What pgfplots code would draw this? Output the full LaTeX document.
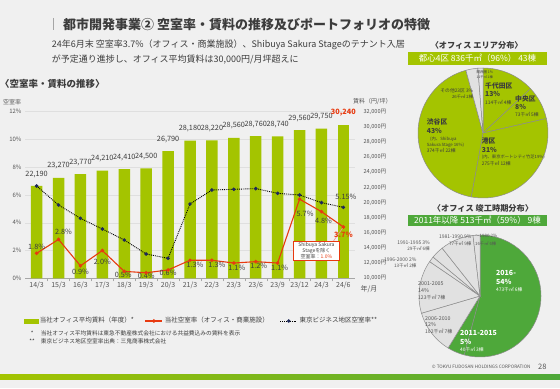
\documentclass[border=0pt]{standalone}
\usepackage{fontspec}
\setmainfont{Noto Sans CJK JP}
\usepackage{pgfplots}
\pgfplotsset{compat=1.18}
\pgfplotsset{/pgf/number format/assume math mode=true}
\definecolor{bgc}{HTML}{F0F0F0}
\definecolor{barc}{RGB}{164,196,0}
\definecolor{grn2}{RGB}{78,168,58}
\definecolor{redl}{RGB}{232,58,16}
\definecolor{navy}{RGB}{30,40,90}
\definecolor{txt}{HTML}{3C3C3C}
\definecolor{tickc}{HTML}{555555}
\definecolor{pgray}{HTML}{E1E1E1}
\definecolor{pline}{HTML}{8C8C8C}
\definecolor{pinkl}{RGB}{240,150,150}
\newcommand{\fs}[2]{\fontsize{#1bp}{#2bp}\selectfont}
\pgfplotsset{mainax/.style={at={(25bp,109.7bp)}, anchor=south west, scale only axis,
  width=330bp, height=166.6bp, xmin=-0.53, xmax=14.53}}
\begin{document}
\begin{tikzpicture}[x=1bp,y=1bp]
\useasboundingbox (0,0) rectangle (560,388);
\fill[bgc] (0,0) rectangle (560,388);
% ---------- header ----------
\draw[gray!70, line width=1bp] (53.5,370) -- (53.5,358);
\node[anchor=west, inner sep=0, text=txt, font=\fs{13}{15}\bfseries] at (63,363.5) {都市開発事業② 空室率・賃料の推移及びポートフォリオの特徴};
\node[anchor=west, inner sep=0, text=txt, font=\fs{9}{11}] at (51.7,343) {24年6月末 空室率3.7\%（オフィス・商業施設）、Shibuya Sakura Stageのテナント入居};
\node[anchor=west, inner sep=0, text=txt, font=\fs{9}{11}] at (51.7,328) {が予定通り進捗し、オフィス平均賃料は30,000円/月坪超えに};
\node[anchor=west, inner sep=0, text=txt, font=\fs{9.5}{11}\bfseries] at (0,304.5) {〈空室率・賃料の推移〉};
\node[anchor=west, inner sep=0, text=tickc, font=\fs{6}{7}] at (3,286) {空室率};
\node[anchor=west, inner sep=0, text=tickc, font=\fs{6}{7}] at (353,286.3) {賃料（円/坪）};
\node[inner sep=0, text=tickc, font=\fs{7}{8}] at (369,98.7) {年/月};
% ---------- axis 1: left scale, grid, category labels ----------
\begin{axis}[mainax, ymin=0, ymax=12, ytick={0,2,...,12},
  yticklabel={\pgfmathprintnumber{\tick}\%},
  ymajorgrids, grid style={gray!25, line width=0.5bp},
  axis x line*=bottom, axis y line*=left,
  y axis line style={draw=none}, x axis line style={draw=gray!70, line width=0.6bp},
  xtick={0,...,14},
  xticklabels={14/3,15/3,16/3,17/3,18/3,19/3,20/3,21/3,22/3,23/3,23/6,23/9,23/12,24/3,24/6},
  major tick length=0pt,
  extra x ticks={0.5,1.5,...,13.5}, extra x tick labels={},
  extra x tick style={major tick length=3bp, tick align=outside, major tick style={draw=gray!70}},
  yticklabel style={font=\fs{6}{7}, text=tickc},
  xticklabel style={font=\fs{7}{8}, text=tickc}]
\addplot[draw=none] coordinates {(0,0)};
\end{axis}
% ---------- axis 2: bars, right scale ----------
\begin{axis}[mainax, ymin=10000, ymax=32000, ytick={10000,12000,...,32000},
  scaled y ticks=false,
  axis x line=none, axis y line*=right, y axis line style={draw=none},
  major tick length=0pt,
  yticklabel={\pgfmathprintnumber[fixed,precision=0,1000 sep={,}]{\tick}円},
  yticklabel style={font=\fs{5.6}{7}, text=tickc, xshift=5bp}]
\addplot[ybar, bar width=11.5bp, bar shift=0pt, fill=barc, draw=none,
  nodes near coords={\pgfmathprintnumber[fixed,precision=0,1000 sep={,}]{\pgfplotspointmeta}},
  nodes near coords style={font=\fs{7.3}{8}, text=txt, anchor=south, yshift=5bp}]
  coordinates {(0,22190) (1,23270) (2,23770) (3,24210) (4,24410) (5,24500) (6,26790)
  (7,28180) (8,28220) (9,28560) (10,28760) (11,28740) (12,29560) (13,29750)};
\addplot[ybar, bar width=11.5bp, bar shift=0pt, fill=barc, draw=none,
  nodes near coords={\pgfmathprintnumber[fixed,precision=0,1000 sep={,}]{\pgfplotspointmeta}},
  nodes near coords style={font=\fs{7.3}{8}\bfseries, text=redl, anchor=south, yshift=5bp}]
  coordinates {(14,30240)};
\end{axis}
% ---------- axis 3: lines ----------
\begin{axis}[mainax, ymin=0, ymax=12, hide axis, clip=false,
  legend columns=3,
  legend style={at={(-0.005,-0.256)}, anchor=west, draw=none, fill=none,
    font=\fs{6.5}{7}, text=txt, inner sep=0pt,
    /tikz/every even column/.append style={column sep=9bp}},
  legend cell align=left]
\addlegendimage{legend image code/.code={\fill[barc] (0bp,-2.2bp) rectangle (14bp,2.2bp);}}
\addlegendentry{当社オフィス平均賃料（年度）*}
\addplot[redl, line width=1.1bp, mark=*, mark size=1.2bp] coordinates {
  (0,1.8) (1,2.8) (2,0.9) (3,2.0) (4,0.5) (5,0.4) (6,0.6) (7,1.3) (8,1.3)
  (9,1.1) (10,1.2) (11,1.1) (12,5.7) (13,4.8) (14,3.7)};
\addlegendentry{当社空室率（オフィス・商業施設）}
\addplot[black, densely dotted, line width=0.9bp, mark=*, mark size=1.3bp,
  mark options={solid, fill=navy, draw=navy}] coordinates {
  (0,6.65) (1,5.28) (2,4.32) (3,3.55) (4,2.76) (5,1.75) (6,1.44) (7,5.35) (8,6.36)
  (9,6.41) (10,6.46) (11,6.12) (12,6.00) (13,5.45) (14,5.11)};
\addlegendentry{東京ビジネス地区空室率**}
% labels of the company vacancy rate
\begin{scope}[every node/.style={font=\fs{7.3}{8}, text=txt, inner sep=0}]
\node[yshift=6bp] at (axis cs:0,1.8) {1.8\%};
\node[xshift=5bp, yshift=7.3bp] at (axis cs:1,2.8) {2.8\%};
\node[yshift=-6bp] at (axis cs:2,0.9) {0.9\%};
\node[yshift=-11bp] at (axis cs:3,2.0) {2.0\%};
\node[xshift=-1bp, yshift=-3bp] at (axis cs:4,0.5) {0.5\%};
\node[yshift=-3bp] at (axis cs:5,0.4) {0.4\%};
\node[yshift=-3bp] at (axis cs:6,0.6) {0.6\%};
\node[xshift=5bp, yshift=-5bp] at (axis cs:7,1.3) {1.3\%};
\node[xshift=5bp, yshift=-5bp] at (axis cs:8,1.3) {1.3\%};
\node[xshift=3bp, yshift=-4.5bp] at (axis cs:9,1.1) {1.1\%};
\node[xshift=3bp, yshift=-4.5bp] at (axis cs:10,1.2) {1.2\%};
\node[xshift=2bp, yshift=-4.5bp] at (axis cs:11,1.1) {1.1\%};
\node[xshift=5.5bp, yshift=-15bp] at (axis cs:12,5.7) {5.7\%};
\node[xshift=2bp, yshift=-9bp] at (axis cs:13,4.8) {4.8\%};
\node[xshift=2.5bp, yshift=10.6bp] at (axis cs:14,5.11) {5.15\%};
\end{scope}
\draw[pinkl, line width=0.7bp] (axis cs:14,3.7) -- (axis cs:13.55,2.69);
\node[font=\fs{7.3}{8}\bfseries, text=redl, inner sep=0, yshift=-8bp] at (axis cs:14,3.7) {3.7\%};
\node[draw=redl, fill=white, line width=0.6bp, inner sep=1.5bp, align=center,
  font=\fs{5}{6}, text=txt, minimum width=46bp] at (axis cs:12.77,1.97)
  {Shibuya Sakura\\Stageを除く\\空室率：{\color{redl}1.0\%}};
\end{axis}
% ---------- footnotes ----------
\node[anchor=west, inner sep=0, text=txt, font=\fs{5.7}{7}] at (30.7,55) {*};
\node[anchor=west, inner sep=0, text=txt, font=\fs{5.7}{7}] at (40.7,55) {当社オフィス平均賃料は東急不動産株式会社における共益費込みの賃料を表示};
\node[anchor=west, inner sep=0, text=txt, font=\fs{5.7}{7}] at (29.3,47) {**};
\node[anchor=west, inner sep=0, text=txt, font=\fs{5.7}{7}] at (40.7,47) {東京ビジネス地区空室率出典：三鬼商事株式会社};
% ---------- pie 1: area distribution ----------
\node[inner sep=0, text=txt, font=\fs{8.2}{9}\bfseries] at (476.7,343) {〈オフィス エリア分布〉};
\fill[barc] (408,323) rectangle (547,336.3);
\node[inner sep=0, text=white, font=\fs{8.5}{9}] at (477.5,329.7) {都心4区 836千㎡（96\%） 43棟};
\xdef\cum{0}
\foreach \v/\col in {114/barc,73/barc,275/barc,374/barc,26/pgray,11/pgray}{
  \pgfmathsetmacro\a{90-\cum/873*360}
  \pgfmathsetmacro\b{90-(\cum+\v)/873*360}
  \filldraw[fill=\col, draw=pline, line width=0.5bp] (483,255) -- ++(\a:65) arc[start angle=\a, end angle=\b, radius=65] -- cycle;
  \pgfmathsetmacro\c{\cum+\v}
  \xdef\cum{\c}
}
\begin{scope}[every node/.style={inner sep=0, anchor=west, text=txt}]
\node[font=\fs{6.8}{8}\bfseries] at (485,302) {千代田区};
\node[font=\fs{6.8}{8}\bfseries] at (485,294) {13\%};
\node[font=\fs{4.8}{6}] at (485,285.7) {114千㎡ 4棟};
\node[font=\fs{6.8}{8}\bfseries] at (515,288.7) {中央区};
\node[font=\fs{6.8}{8}\bfseries] at (515,281.3) {8\%};
\node[font=\fs{4.8}{6}] at (515,273) {73千㎡ 5棟};
\node[font=\fs{6.8}{8}\bfseries] at (481.7,247) {港区};
\node[font=\fs{6.8}{8}\bfseries] at (481.7,238) {31\%};
\node[font=\fs{4.3}{5}] at (481.7,230.7) {(内、東京ポートシティ竹芝19\%)};
\node[font=\fs{4.8}{6}] at (481.7,224.7) {275千㎡ 12棟};
\node[font=\fs{6.8}{8}\bfseries] at (426.7,266.3) {渋谷区};
\node[font=\fs{6.8}{8}\bfseries] at (426.7,257.3) {43\%};
\node[font=\fs{4.3}{5}] at (430,249) {(内、Shibuya};
\node[font=\fs{4.3}{5}] at (426.7,243) {Sakura Stage 16\%)};
\node[font=\fs{4.8}{6}] at (426.7,237.3) {374千㎡ 22棟};
\node[font=\fs{4.8}{6}, anchor=east] at (473.3,297) {その他23区 3\%};
\node[font=\fs{4.3}{5}, anchor=east] at (473.3,291.3) {26千㎡ 2棟};
\node[font=\fs{3.5}{4}] at (476.5,315.3) {関西圏 1\%};
\node[font=\fs{3.3}{4}] at (476.5,311.3) {11千㎡ 1棟};
\end{scope}
% ---------- pie 2: completion period ----------
\node[inner sep=0, text=txt, font=\fs{8.2}{9}\bfseries] at (483,179.7) {〈オフィス 竣工時期分布〉};
\fill[grn2] (408.3,162) rectangle (546.7,173);
\node[inner sep=0, text=white, font=\fs{8.5}{9}] at (477.5,167.5) {2011年以降 513千㎡（59\%） 9棟};
\xdef\cum{0}
\foreach \v/\col in {473/grn2,40/grn2,102/pgray,123/pgray,13/pgray,29/pgray,77/pgray,16/pgray}{
  \pgfmathsetmacro\a{90-\cum/873*360}
  \pgfmathsetmacro\b{90-(\cum+\v)/873*360}
  \filldraw[fill=\col, draw=pline, line width=0.5bp] (480,92) -- ++(\a:61) arc[start angle=\a, end angle=\b, radius=61] -- cycle;
  \pgfmathsetmacro\c{\cum+\v}
  \xdef\cum{\c}
}
\begin{scope}[every node/.style={inner sep=0, anchor=west, text=tickc}]
\node[font=\fs{7}{8}\bfseries, text=white] at (496,115.3) {2016-};
\node[font=\fs{7}{8}\bfseries, text=white] at (496,106.3) {54\%};
\node[font=\fs{4.8}{6}, text=white] at (496,98) {473千㎡ 6棟};
\node[font=\fs{7}{8}\bfseries, text=white] at (460,54.7) {2011-2015};
\node[font=\fs{7}{8}\bfseries, text=white] at (460,46.3) {5\%};
\node[font=\fs{4.8}{6}, text=white] at (460,38.7) {40千㎡ 3棟};
\node[font=\fs{5.3}{6}] at (425,69.7) {2006-2010};
\node[font=\fs{5.3}{6}] at (425,63.7) {12\%};
\node[font=\fs{5}{6}] at (425,56.3) {102千㎡ 7棟};
\node[font=\fs{5.3}{6}] at (418,104.7) {2001-2005};
\node[font=\fs{5.3}{6}] at (418,97) {14\%};
\node[font=\fs{5}{6}] at (418,90.3) {123千㎡ 7棟};
\node[font=\fs{5}{6}, anchor=east] at (416.7,128.7) {1996-2000 2\%};
\node[font=\fs{4.6}{6}, anchor=east] at (416.7,122.3) {13千㎡ 2棟};
\node[font=\fs{5}{6}, anchor=east] at (430,145.3) {1991-1995 3\%};
\node[font=\fs{4.6}{6}, anchor=east] at (430,139.3) {29千㎡ 6棟};
\node[font=\fs{5}{6}, anchor=east] at (471.7,151.3) {1981-1990 9\%};
\node[font=\fs{4.6}{6}, anchor=east] at (471.7,144) {77千㎡ 9棟};
\node[font=\fs{4.5}{6}] at (475,152.3) {～1980 2\%};
\node[font=\fs{4.3}{6}] at (475,144.7) {16千㎡ 6棟};
\end{scope}
% ---------- footer ----------
\node[anchor=west, inner sep=0, text=tickc, font=\fs{4.6}{6}] at (431.7,20.7) {© TOKYU FUDOSAN HOLDINGS CORPORATION};
\node[inner sep=0, text=tickc, font=\fs{7.5}{8}] at (542.3,20.7) {28};
\shade[left color=barc, right color=grn2] (0,8.5) rectangle (560,13.5);
\end{tikzpicture}
\end{document}
